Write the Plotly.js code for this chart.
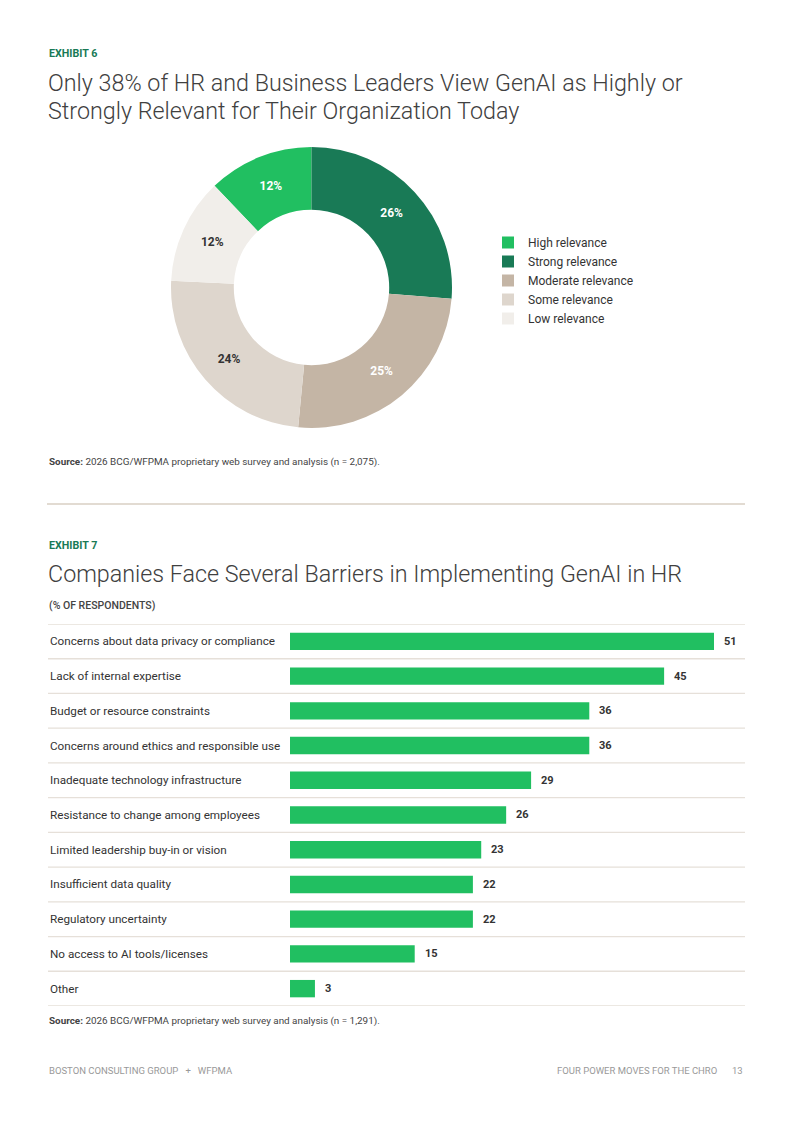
<!DOCTYPE html>
<html>
<head>
<meta charset="utf-8">
<script src="https://cdn.plot.ly/plotly-3.0.1.min.js"></script>
<style>html,body{margin:0;padding:0;background:#fff;}#chart{width:793px;height:1121px;}</style>
</head>
<body>
<div id="chart"></div>
<script>
// ---- Exhibit 6 data ----
const relevanceLabels = ["High relevance", "Strong relevance", "Moderate relevance", "Some relevance", "Low relevance"];
const relevanceValues = [12, 26, 25, 24, 12];
const relevanceColors = ["#21bf61", "#197a56", "#c4b5a5", "#ded6cd", "#f1eeea"];
const relevanceTextColors = ["#ffffff", "#ffffff", "#ffffff", "#333333", "#333333"];

// ---- Exhibit 7 data ----
const barriers = [
  "Concerns about data privacy or compliance",
  "Lack of internal expertise",
  "Budget or resource constraints",
  "Concerns around ethics and responsible use",
  "Inadequate technology infrastructure",
  "Resistance to change among employees",
  "Limited leadership buy-in or vision",
  "Insufficient data quality",
  "Regulatory uncertainty",
  "No access to AI tools/licenses",
  "Other"
];
const barrierValues = [51, 45, 36, 36, 29, 26, 23, 22, 22, 15, 3];

const W = 793, H = 1121;
const px = v => v / W;
const py = v => 1 - v / H;
const FONT = "Roboto, 'Open Sans', sans-serif";

const total = relevanceValues.reduce((a, b) => a + b, 0);

const traces = [
  {
    type: "pie",
    labels: relevanceLabels,
    values: relevanceValues,
    sort: false,
    direction: "clockwise",
    rotation: -relevanceValues[0] / total * 360,
    hole: 0.553,
    domain: {x: [px(171), px(452)], y: [py(428), py(147)]},
    marker: {colors: relevanceColors, line: {width: 0}},
    textinfo: "text",
    text: relevanceValues.map(v => v + "%"),
    textposition: "inside",
    insidetextorientation: "horizontal",
    insidetextfont: {family: FONT, size: 12, weight: 700, color: relevanceTextColors},
    hoverinfo: "label+value",
    showlegend: true
  },
  {
    type: "bar",
    orientation: "h",
    x: barrierValues,
    y: barriers,
    marker: {color: "#21bf61"},
    xaxis: "x",
    yaxis: "y",
    showlegend: false,
    hoverinfo: "x+y"
  }
];

const annotations = [];
function txt(text, x, y, font, opts) {
  annotations.push(Object.assign({
    text: text, x: x, y: y, xref: "paper", yref: "paper",
    xanchor: "left", yanchor: "middle", showarrow: false,
    font: Object.assign({family: FONT}, font)
  }, opts || {}));
}
const titleFont = {size: 23.3, color: "#404040", weight: 300};
const exhibitFont = {size: 10.7, color: "#197a56", weight: 700};
const sourceFont = {size: 9.9, color: "#444444"};
const footFont = {size: 9.5, color: "#999999"};

// Exhibit 6 headings
txt("EXHIBIT 6", px(47), py(53), exhibitFont);
txt("Only 38% of HR and Business Leaders View GenAI as Highly or", px(46), py(83), titleFont);
txt("Strongly Relevant for Their Organization Today", px(46), py(111), titleFont);
txt("<b>Source:</b> 2026 BCG/WFPMA proprietary web survey and analysis (n = 2,075).", px(47), py(462), sourceFont);

// Exhibit 7 headings
txt("EXHIBIT 7", px(47), py(546), exhibitFont);
txt("Companies Face Several Barriers in Implementing GenAI in HR", px(46), py(574), titleFont);
txt("(% OF RESPONDENTS)", px(47), py(605), {size: 10.5, color: "#444444", weight: 500});
txt("<b>Source:</b> 2026 BCG/WFPMA proprietary web survey and analysis (n = 1,291).", px(47), py(1021), sourceFont);

// Footer
txt("BOSTON CONSULTING GROUP   +   WFPMA", px(47), py(1070), footFont);
txt("FOUR POWER MOVES FOR THE CHRO", px(719), py(1070), footFont, {xanchor: "right"});
txt("13", px(745), py(1070), footFont, {xanchor: "right"});

// Bar category labels and values
barriers.forEach((c, i) => {
  annotations.push({
    text: c, x: px(48), y: c, xref: "paper", yref: "y",
    xanchor: "left", yanchor: "middle", showarrow: false,
    font: {family: FONT, size: 11.7, color: "#333333"}
  });
  annotations.push({
    text: "<b>" + barrierValues[i] + "</b>", x: barrierValues[i], y: c, xref: "x", yref: "y",
    xanchor: "left", yanchor: "middle", xshift: 8, showarrow: false,
    font: {family: FONT, size: 11, color: "#333333"}
  });
});

const shapes = [];
for (let i = 0; i <= barriers.length; i++) {
  shapes.push({
    type: "line", xref: "paper", yref: "y",
    x0: px(48), x1: px(745), y0: i - 0.5, y1: i - 0.5,
    line: {color: "#e6e0d9", width: 1.3}
  });
}
// divider between exhibits
shapes.push({
  type: "line", xref: "paper", yref: "paper",
  x0: px(47), x1: px(745), y0: py(504), y1: py(504),
  line: {color: "#d8cfc3", width: 1.5}
});

const layout = {
  width: W, height: H,
  margin: {l: 0, r: 0, t: 0, b: 0, pad: 0},
  paper_bgcolor: "#ffffff",
  plot_bgcolor: "rgba(0,0,0,0)",
  font: {family: FONT, color: "#333333"},
  showlegend: true,
  legend: {
    x: px(488), y: py(228), xanchor: "left", yanchor: "top",
    font: {family: FONT, size: 12, color: "#333333"},
    bgcolor: "rgba(0,0,0,0)", traceorder: "normal"
  },
  bargap: 0.5,
  xaxis: {
    domain: [px(290), px(745)],
    range: [0, (745 - 290) / ((714 - 290) / barrierValues[0])],
    visible: false, fixedrange: true
  },
  yaxis: {
    domain: [py(1006), py(624)],
    type: "category",
    categoryorder: "array",
    categoryarray: barriers,
    range: [barriers.length - 0.5, -0.5],
    showticklabels: false, showgrid: false, zeroline: false, showline: false,
    fixedrange: true
  },
  annotations: annotations,
  shapes: shapes
};

Plotly.newPlot("chart", traces, layout, {displayModeBar: false, staticPlot: true});
</script>
</body>
</html>
